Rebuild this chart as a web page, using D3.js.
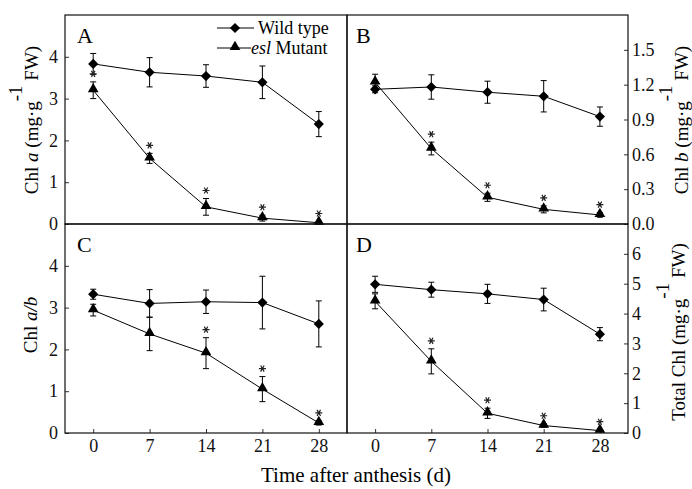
<!DOCTYPE html>
<html>
<head>
<meta charset="utf-8">
<script src="https://cdn.jsdelivr.net/npm/d3@7"></script>
<style>
  body { margin: 0; background: #fff; }
  svg, svg text { font-family: "Liberation Serif", "Times New Roman", serif; }
  .tick text { font-size: 18px; fill: #111; }
  .tick line { stroke: #333; }
</style>
</head>
<body>
<div id="chart"></div>
<script>
/* chlorophyll during grain filling, wild type vs esl mutant */

const days = [0, 7, 14, 21, 28];

// A: Chl a
const wtChlA = [3.83, 3.63, 3.54, 3.39, 2.39];
const wtChlAErr = [0.25, 0.35, 0.27, 0.39, 0.30];
const mutChlA = [3.20, 1.57, 0.41, 0.14, 0.03];
const mutChlAErr = [0.20, 0.12, 0.20, 0.07, 0.03];
const starChlA = [1, 1, 1, 1, 1];

// B: Chl b
const wtChlB = [1.16, 1.18, 1.135, 1.10, 0.925];
const wtChlBErr = [0.03, 0.105, 0.095, 0.135, 0.083];
const mutChlB = [1.22, 0.65, 0.23, 0.126, 0.078];
const mutChlBErr = [0.07, 0.055, 0.035, 0.03, 0.02];
const starChlB = [0, 1, 1, 1, 1];

// C: Chl a/b
const wtRatio = [3.32, 3.10, 3.14, 3.12, 2.61];
const wtRatioErr = [0.12, 0.33, 0.28, 0.63, 0.55];
const mutRatio = [2.94, 2.37, 1.91, 1.05, 0.24];
const mutRatioErr = [0.14, 0.40, 0.37, 0.30, 0.05];
const starRatio = [0, 0, 1, 1, 1];

// D: total Chl
const wtTotal = [4.98, 4.80, 4.66, 4.47, 3.31];
const wtTotalErr = [0.27, 0.25, 0.32, 0.38, 0.22];
const mutTotal = [4.41, 2.40, 0.66, 0.25, 0.08];
const mutTotalErr = [0.25, 0.42, 0.17, 0.06, 0.03];
const starTotal = [0, 1, 1, 1, 1];

const ticksA = [0, 1, 2, 3, 4];
const ticksB = [0, 0.3, 0.6, 0.9, 1.2, 1.5];
const ticksC = [0, 1, 2, 3, 4];
const ticksD = [0, 1, 2, 3, 4, 5, 6];

const width = 692, height = 489;
const xL = 65, xM = 347, xR = 628;
const yT = 15, yM = 224, yB = 433;
const serif = "'Liberation Serif', 'Times New Roman', serif";

const svg = d3.select("#chart").append("svg")
    .attr("width", width)
    .attr("height", height)
    .attr("font-family", serif);

const panels = [
  {id: "A", x0: xL, x1: xM, y0: yT, y1: yM, max: 5, ticks: ticksA, fmt: d3.format("d"), side: "left", bottom: false,
   wt: wtChlA, wtErr: wtChlAErr, mut: mutChlA, mutErr: mutChlAErr, star: starChlA},
  {id: "B", x0: xM, x1: xR, y0: yT, y1: yM, max: 1.8, ticks: ticksB, fmt: d3.format(".1f"), side: "right", bottom: false,
   wt: wtChlB, wtErr: wtChlBErr, mut: mutChlB, mutErr: mutChlBErr, star: starChlB},
  {id: "C", x0: xL, x1: xM, y0: yM, y1: yB, max: 5, ticks: ticksC, fmt: d3.format("d"), side: "left", bottom: true,
   wt: wtRatio, wtErr: wtRatioErr, mut: mutRatio, mutErr: mutRatioErr, star: starRatio},
  {id: "D", x0: xM, x1: xR, y0: yM, y1: yB, max: 7, ticks: ticksD, fmt: d3.format("d"), side: "right", bottom: true,
   wt: wtTotal, wtErr: wtTotalErr, mut: mutTotal, mutErr: mutTotalErr, star: starTotal}
];

const diamond = d3.symbol(d3.symbolSquare, 52);
const triangle = d3.symbol(d3.symbolTriangle, 50);
const asterisk = d3.symbol(d3.symbolAsterisk, 34);

function cleanAxis(a) {
  a.select(".domain").remove();
  a.attr("font-family", serif).attr("font-size", 18);
}

panels.forEach(p => {
  let x = d3.scaleLinear().domain([-3.5, 31.5]).range([p.x0, p.x1]);
  let y = d3.scaleLinear().domain([0, p.max]).range([p.y1, p.y0]);

  let g = svg.append("g");

  // y axis, ticks inside the frame
  if (p.side == "left") {
    g.append("g")
      .attr("transform", `translate(${p.x0},0)`)
      .call(d3.axisLeft(y).tickValues(p.ticks).tickFormat(p.fmt).tickSizeInner(-4).tickSizeOuter(0).tickPadding(7))
      .call(cleanAxis);
  } else {
    g.append("g")
      .attr("transform", `translate(${p.x1},0)`)
      .call(d3.axisRight(y).tickValues(p.ticks).tickFormat(p.fmt).tickSizeInner(-4).tickSizeOuter(0).tickPadding(4))
      .call(cleanAxis);
  }
  if (p.bottom) {
    g.append("g")
      .attr("transform", `translate(0,${p.y1})`)
      .call(d3.axisBottom(x).tickValues(days).tickFormat(d3.format("d")).tickSizeInner(-4).tickSizeOuter(0).tickPadding(6))
      .call(cleanAxis);
  }

  // frame
  g.append("rect")
    .attr("x", p.x0).attr("y", p.y0)
    .attr("width", p.x1 - p.x0).attr("height", p.y1 - p.y0)
    .attr("fill", "none").attr("stroke", "#111").attr("stroke-width", 1.2);

  // panel letter
  g.append("text")
    .attr("x", p.x0 + (p.side == "left" ? 12 : 9))
    .attr("y", p.y0 + 28)
    .attr("font-size", 22)
    .text(p.id);

  let line = d3.line().x((d, i) => x(days[i])).y(d => y(d));

  [["wt", "wtErr"], ["mut", "mutErr"]].forEach(([k, e]) => {
    g.append("path")
      .datum(p[k])
      .attr("d", line)
      .attr("fill", "none")
      .attr("stroke", "#000")
      .attr("stroke-width", 1);

    let eb = g.append("g").selectAll("g").data(p[k]).join("g");
    eb.append("line")
      .attr("x1", (d, i) => x(days[i])).attr("x2", (d, i) => x(days[i]))
      .attr("y1", (d, i) => y(d - p[e][i])).attr("y2", (d, i) => y(d + p[e][i]))
      .attr("stroke", "#000").attr("stroke-width", 1);
    [-1, 1].forEach(s => {
      eb.append("line")
        .attr("x1", (d, i) => x(days[i]) - 3).attr("x2", (d, i) => x(days[i]) + 3)
        .attr("y1", (d, i) => y(d + s * p[e][i])).attr("y2", (d, i) => y(d + s * p[e][i]))
        .attr("stroke", "#000").attr("stroke-width", 1);
    });
  });

  g.append("g").selectAll("path").data(p.wt).join("path")
    .attr("d", diamond)
    .attr("transform", (d, i) => `translate(${x(days[i])},${y(d)}) rotate(45)`)
    .attr("fill", "#000");

  g.append("g").selectAll("path").data(p.mut).join("path")
    .attr("d", triangle)
    .attr("transform", (d, i) => `translate(${x(days[i])},${y(d) - 1})`)
    .attr("fill", "#000");

  // significance marks
  let starIdx = days.map((d, i) => i).filter(i => p.star[i] == 1);
  g.append("g").selectAll("path").data(starIdx).join("path")
    .attr("d", asterisk)
    .attr("transform", i => `translate(${x(days[i])},${y(p.mut[i] + p.mutErr[i]) - 8}) rotate(90)`)
    .attr("fill", "none")
    .attr("stroke", "#222")
    .attr("stroke-width", 1.2);
});

// legend
const legend = [
  {label: "Wild type", sym: diamond, rot: 45, y: 28},
  {label: "Mutant", pre: "esl", sym: triangle, rot: 0, y: 48}
];
const lg = svg.append("g").selectAll("g").data(legend).join("g");
lg.append("line")
  .attr("x1", 217).attr("x2", d => d.pre ? 251 : 254)
  .attr("y1", d => d.y).attr("y2", d => d.y)
  .attr("stroke", "#000");
lg.append("path")
  .attr("d", d => d.sym())
  .attr("transform", d => `translate(235,${d.y - (d.rot ? 0 : 1)}) rotate(${d.rot})`);
lg.append("text")
  .attr("x", d => d.pre ? 251 : 258)
  .attr("y", d => d.y + 6)
  .attr("font-size", 18)
  .each(function(d) {
    let t = d3.select(this);
    if (d.pre) t.append("tspan").attr("font-style", "italic").text(d.pre + " ");
    t.append("tspan").text(d.label);
  });

// axis titles
function yTitle(cx, cy, parts) {
  let t = svg.append("text")
    .attr("transform", `translate(${cx},${cy}) rotate(-90)`)
    .attr("text-anchor", "middle")
    .attr("font-size", 19);
  parts.forEach(pt => {
    let s = t.append("tspan").text(pt.t);
    if (pt.i) s.attr("font-style", "italic");
    if (pt.dy) s.attr("dy", pt.dy);
  });
}
yTitle(38, 120, [{t: "Chl "}, {t: "a", i: true}, {t: " (mg·g"}, {t: "-1", dy: -16}, {t: " FW)", dy: 16}]);
yTitle(688, 120, [{t: "Chl "}, {t: "b", i: true}, {t: " (mg·g"}, {t: "-1", dy: -16}, {t: " FW)", dy: 16}]);
yTitle(37, 325, [{t: "Chl "}, {t: "a/b", i: true}]);
yTitle(685, 332, [{t: "Total Chl (mg·g"}, {t: "-1", dy: -16}, {t: " FW)", dy: 16}]);

svg.append("text")
  .attr("x", 356)
  .attr("y", 482)
  .attr("text-anchor", "middle")
  .attr("font-size", 21)
  .text("Time after anthesis (d)");
</script>
</body>
</html>
